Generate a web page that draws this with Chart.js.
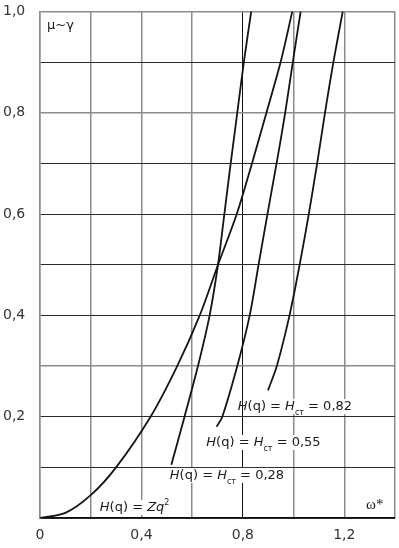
<!DOCTYPE html>
<html>
<head>
<meta charset="utf-8">
<script src="https://cdn.jsdelivr.net/npm/chart.js@4.4.1/dist/chart.umd.min.js"></script>
<style>
  html, body { margin: 0; padding: 0; background: #fff; }
  #wrap { width: 399px; height: 548px; }
</style>
</head>
<body>
<div id="wrap"><canvas id="chart" width="399" height="548"></canvas></div>
<script>
// H(q) = Zq^2
const parabolaX = [0, 0.1, 0.2, 0.3, 0.436, 0.541, 0.63, 0.702, 0.776, 0.836, 0.893, 0.949, 0.995];
const parabolaY = [0, 0.01, 0.045, 0.1, 0.2, 0.3, 0.4, 0.5, 0.6, 0.7, 0.8, 0.9, 1.0];

// H(q) = Hст = 0,28
const curve028X = [0.518, 0.57, 0.623, 0.669, 0.702, 0.727, 0.752, 0.778, 0.804, 0.833];
const curve028Y = [0.105, 0.2, 0.3, 0.4, 0.5, 0.6, 0.7, 0.8, 0.9, 1.0];

// H(q) = Hст = 0,55
const curve055X = [0.696, 0.719, 0.778, 0.827, 0.862, 0.897, 0.933, 0.967, 0.997, 1.028];
const curve055Y = [0.18, 0.2, 0.3, 0.4, 0.5, 0.6, 0.7, 0.8, 0.9, 1.0];

// H(q) = Hст = 0,82
const curve082X = [0.899, 0.934, 0.984, 1.024, 1.06, 1.093, 1.124, 1.157, 1.194];
const curve082Y = [0.252, 0.3, 0.4, 0.5, 0.6, 0.7, 0.8, 0.9, 1.0];

const xTickLabels = [0, 0.4, 0.8, 1.2];
const yTickLabels = [0.2, 0.4, 0.6, 0.8, 1.0];

const toPoints = (xs, ys) => xs.map((x, i) => ({ x, y: ys[i] }));
const fmt = (v) => (Math.round(v * 10) / 10).toFixed(1).replace(".", ",");
const near = (a, b) => Math.abs(a - b) < 1e-6;

const FONT = "'DejaVu Sans', sans-serif";

const curveStyle = {
  borderColor: "#141414",
  borderWidth: 1.8,
  pointRadius: 0,
  showLine: true,
  tension: 0.3,
  fill: false,
};

// text annotations, placed in data units
const labels = [
  { x: 0.78, y: 0.219, parts: [["H", "i"], ["(q) = ", "n"], ["H", "i"], ["ст", "sub"], [" = 0,82", "n"]] },
  { x: 0.656, y: 0.148, parts: [["H", "i"], ["(q) = ", "n"], ["H", "i"], ["ст", "sub"], [" = 0,55", "n"]] },
  { x: 0.512, y: 0.083, parts: [["H", "i"], ["(q) = ", "n"], ["H", "i"], ["ст", "sub"], [" = 0,28", "n"]] },
  { x: 0.236, y: 0.02, parts: [["H", "i"], ["(q) = ", "n"], ["Zq", "i"], ["2", "sup"]] },
];

const fontFor = (kind) => {
  if (kind === "i") return "italic 13px " + FONT;
  if (kind === "sub" || kind === "sup") return "8px " + FONT;
  return "13px " + FONT;
};

const labelPlugin = {
  id: "curveLabels",
  afterDatasetsDraw(chart) {
    const { ctx, scales } = chart;
    ctx.save();
    ctx.textBaseline = "middle";
    labels.forEach((lab) => {
      const x0 = scales.x.getPixelForValue(lab.x);
      const y0 = scales.y.getPixelForValue(lab.y);
      let w = 0;
      lab.parts.forEach(([t, k]) => {
        ctx.font = fontFor(k);
        w += ctx.measureText(t).width;
      });
      ctx.fillStyle = "#fff";
      ctx.fillRect(x0 + 6, y0 - 8, w - 6, 15);
      let x = x0;
      ctx.fillStyle = "#1a1a1a";
      lab.parts.forEach(([t, k]) => {
        ctx.font = fontFor(k);
        let dy = 0;
        if (k === "sub") dy = 6;
        if (k === "sup") dy = -5;
        ctx.fillText(t, x, y0 + dy);
        x += ctx.measureText(t).width;
      });
    });

    ctx.font = "13px " + FONT;
    ctx.fillText("μ~γ", scales.x.getPixelForValue(0.028), scales.y.getPixelForValue(0.972));
    ctx.font = "15px 'Liberation Serif', serif";
    ctx.fillText("ω*", scales.x.getPixelForValue(1.286), scales.y.getPixelForValue(0.026));
    ctx.restore();
  },
};

new Chart(document.getElementById("chart"), {
  type: "scatter",
  data: {
    datasets: [
      { label: "Zq2", data: toPoints(parabolaX, parabolaY), ...curveStyle },
      { label: "0,28", data: toPoints(curve028X, curve028Y), ...curveStyle },
      { label: "0,55", data: toPoints(curve055X, curve055Y), ...curveStyle },
      { label: "0,82", data: toPoints(curve082X, curve082Y), ...curveStyle },
    ],
  },
  options: {
    responsive: false,
    animation: false,
    layout: { padding: { top: 11, right: 4, left: 3, bottom: 0 } },
    plugins: {
      legend: { display: false },
      tooltip: { enabled: false },
    },
    scales: {
      x: {
        type: "linear",
        min: 0,
        max: 1.4,
        afterFit: (scale) => {
          scale.height = 30;
          scale.paddingLeft = 0;
          scale.paddingRight = 0;
        },
        ticks: {
          stepSize: 0.2,
          padding: 9,
          color: "#333",
          font: { family: FONT, size: 14 },
          callback: (v) => (xTickLabels.some((t) => near(t, v)) ? (v === 0 ? "0" : fmt(v)) : ""),
        },
        grid: {
          drawTicks: false,
          color: (c) => (near(c.tick.value, 0.8) ? "#111" : "#8c8c8c"),
          lineWidth: (c) => (near(c.tick.value, 0.8) ? 1 : 1.5),
        },
        border: { color: "#111", width: 1.2 },
      },
      y: {
        type: "linear",
        min: 0,
        max: 1,
        afterFit: (scale) => { scale.width = 37; },
        ticks: {
          stepSize: 0.1,
          crossAlign: "far",
          color: "#333",
          font: { family: FONT, size: 14 },
          callback: (v) => (yTickLabels.some((t) => near(t, v)) ? fmt(v) : ""),
        },
        grid: {
          drawTicks: false,
          color: (c) => (near(c.tick.value, 0.3) || near(c.tick.value, 0.8) || near(c.tick.value, 1) ? "#8c8c8c" : "#2a2a2a"),
          lineWidth: (c) => (near(c.tick.value, 0.3) || near(c.tick.value, 0.8) || near(c.tick.value, 1) ? 1.5 : 1),
        },
        border: { color: "#8c8c8c", width: 1.5 },
      },
    },
  },
  plugins: [labelPlugin],
});
</script>
</body>
</html>
